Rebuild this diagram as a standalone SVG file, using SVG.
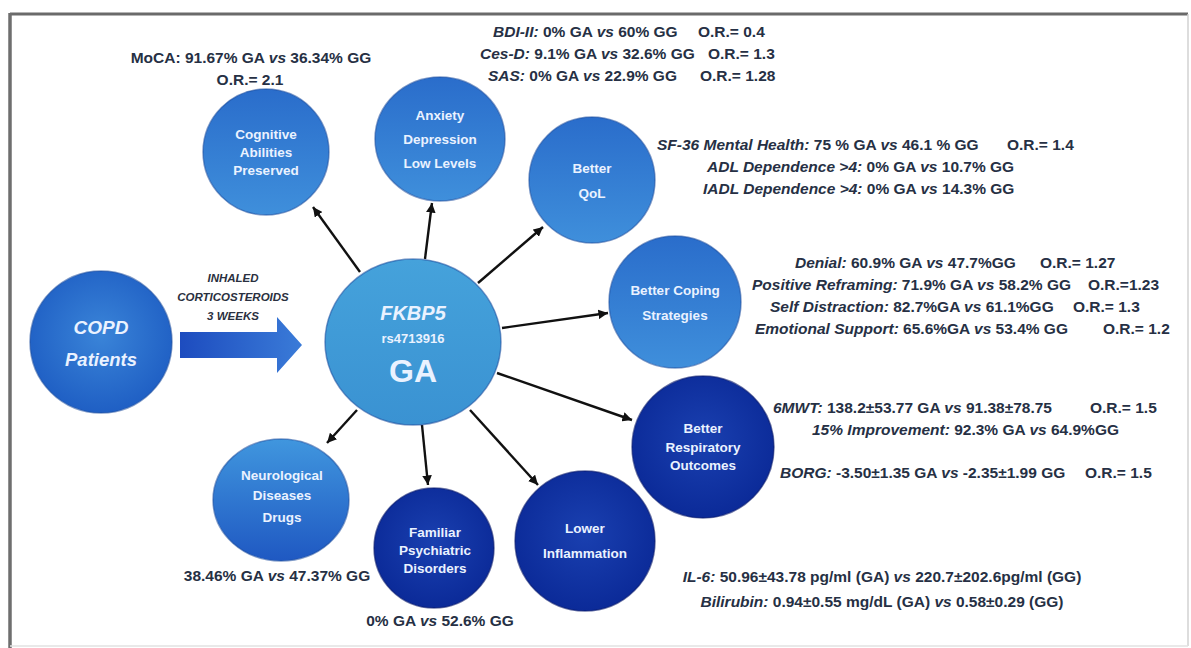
<svg xmlns="http://www.w3.org/2000/svg" width="1191" height="648" viewBox="0 0 1191 648">
<style>
text{font-family:"Liberation Sans",Arial,sans-serif;font-weight:bold}
.ann{font-size:15.5px;fill:#263044}
.i{font-style:italic}
.c{text-anchor:middle}
.in{fill:#eaf2ff;font-size:13.5px;text-anchor:middle}
.big19{font-size:19px}
.big18{font-size:18.5px}
.fk{font-size:20px}
.rs{font-size:13px}
.ga{font-size:32px}
.lbl{font-size:11.5px;fill:#2a3040;font-style:italic;text-anchor:middle}
.edge{stroke:#111;stroke-width:2.4;fill:none;marker-end:url(#ah)}
.rim{stroke:#1a4a9c;stroke-opacity:.55;stroke-width:1.5}
.rimd{stroke:#06186b;stroke-opacity:.6;stroke-width:1.5}
</style>
<defs>
<marker id="ah" viewBox="0 0 10 10" refX="10" refY="5" markerWidth="4" markerHeight="4" orient="auto" markerUnits="strokeWidth"><path d="M0,0 L10,5 L0,10 z" fill="#111"/></marker>
<linearGradient id="gMid" x1="0" y1="0" x2="0" y2="1"><stop offset="0" stop-color="#2a6dcb"/><stop offset="1" stop-color="#3f8fdb"/></linearGradient>
<linearGradient id="gGA" x1="0" y1="0" x2="0" y2="1"><stop offset="0" stop-color="#45a2db"/><stop offset="1" stop-color="#3a92d2"/></linearGradient>
<linearGradient id="gNeuro" x1="0" y1="0" x2="0" y2="1"><stop offset="0" stop-color="#4096de"/><stop offset="1" stop-color="#1f58c2"/></linearGradient>
<radialGradient id="gDark" cx="0.5" cy="0.45" r="0.55"><stop offset="0" stop-color="#1a40b0"/><stop offset="1" stop-color="#0b2a98"/></radialGradient>
<radialGradient id="gCopd" cx="0.5" cy="0.45" r="0.55"><stop offset="0" stop-color="#3a84d8"/><stop offset="1" stop-color="#1f5fc4"/></radialGradient>
<linearGradient id="gArrow" x1="0" y1="0" x2="1" y2="0"><stop offset="0" stop-color="#1d4cbf"/><stop offset="1" stop-color="#3a7bd8"/></linearGradient>
</defs>
<rect width="1191" height="648" fill="#fff"/>
<g id="frame">
<line x1="10" y1="14" x2="1188" y2="14" stroke="#6a6a6a" stroke-width="3"/>
<line x1="10" y1="13" x2="10" y2="648" stroke="#6e6e6e" stroke-width="3.5"/>
<line x1="1188" y1="14" x2="1188" y2="646" stroke="#d2d2d2" stroke-width="1.5"/>
<line x1="10" y1="646" x2="1188" y2="646" stroke="#e2e2e2" stroke-width="1.5"/>
</g>

<g id="connectors">
<line class="edge" x1="360" y1="272" x2="313" y2="207"/>
<line class="edge" x1="425" y1="259" x2="432" y2="203"/>
<line class="edge" x1="478" y1="283" x2="543" y2="227"/>
<line class="edge" x1="502" y1="328" x2="608" y2="313"/>
<line class="edge" x1="497" y1="373" x2="632" y2="420"/>
<line class="edge" x1="470" y1="410" x2="538" y2="485"/>
<line class="edge" x1="422" y1="425" x2="428" y2="485"/>
<line class="edge" x1="357" y1="410" x2="327" y2="443"/>
<g id="treatment-arrow">
<path d="M180,332 L277,332 L277,317 L302,345 L277,373 L277,358 L180,358 Z" fill="url(#gArrow)"/>
<text class="lbl" x="233" y="282">INHALED</text>
<text class="lbl" x="233" y="301">CORTICOSTEROIDS</text>
<text class="lbl" x="233" y="320">3 WEEKS</text>
</g>
</g>

<g id="node-copd">
<circle cx="101" cy="342" r="71" fill="url(#gCopd)" class="rim"/>
<text class="in i big19" x="101" y="334">COPD</text>
<text class="in i big18" x="101" y="366">Patients</text>
</g>

<g id="node-ga">
<ellipse cx="413" cy="342" rx="88" ry="83" fill="url(#gGA)" class="rim"/>
<text class="in i fk" x="413" y="320">FKBP5</text>
<text class="in rs" x="413" y="343">rs4713916</text>
<text class="in ga" x="413" y="382">GA</text>
</g>

<g id="node-cognitive">
<circle cx="266" cy="152" r="63" fill="url(#gMid)" class="rim"/>
<text class="in" x="266" y="139">Cognitive</text>
<text class="in" x="266" y="157">Abilities</text>
<text class="in" x="266" y="175">Preserved</text>
<text class="ann c" x="251" y="63">MoCA: 91.67% GA <tspan class="i">vs</tspan> 36.34% GG</text>
<text class="ann c" x="250" y="85">O.R.= 2.1</text>
</g>

<g id="node-anxiety">
<ellipse cx="440" cy="139" rx="65" ry="62" fill="url(#gMid)" class="rim"/>
<text class="in" x="440" y="120">Anxiety</text>
<text class="in" x="440" y="144">Depression</text>
<text class="in" x="440" y="168">Low Levels</text>
<text class="ann" x="493" y="37"><tspan class="i">BDI-II:</tspan> 0% GA <tspan class="i">vs</tspan> 60% GG<tspan x="698">O.R.= 0.4</tspan></text>
<text class="ann" x="480" y="59"><tspan class="i">Ces-D:</tspan> 9.1% GA <tspan class="i">vs</tspan> 32.6% GG<tspan x="708">O.R.= 1.3</tspan></text>
<text class="ann" x="488" y="81"><tspan class="i">SAS:</tspan> 0% GA <tspan class="i">vs</tspan> 22.9% GG<tspan x="700">O.R.= 1.28</tspan></text>
</g>

<g id="node-qol">
<circle cx="592" cy="180" r="63" fill="url(#gMid)" class="rim"/>
<text class="in" x="592" y="173">Better</text>
<text class="in" x="592" y="198">QoL</text>
<text class="ann" x="657" y="150"><tspan class="i">SF-36 Mental Health:</tspan> 75 % GA <tspan class="i">vs</tspan> 46.1 % GG<tspan x="1007">O.R.= 1.4</tspan></text>
<text class="ann" x="707" y="172"><tspan class="i">ADL Dependence &gt;4:</tspan> 0% GA <tspan class="i">vs</tspan> 10.7% GG</text>
<text class="ann" x="703" y="194"><tspan class="i">IADL Dependence &gt;4:</tspan> 0% GA <tspan class="i">vs</tspan> 14.3% GG</text>
</g>

<g id="node-coping">
<circle cx="675" cy="302" r="66" fill="url(#gMid)" class="rim"/>
<text class="in" x="675" y="295">Better Coping</text>
<text class="in" x="675" y="320">Strategies</text>
<text class="ann" x="795" y="268"><tspan class="i">Denial:</tspan> 60.9% GA <tspan class="i">vs</tspan> 47.7%GG<tspan x="1040">O.R.= 1.27</tspan></text>
<text class="ann" x="752" y="290"><tspan class="i">Positive Reframing:</tspan> 71.9% GA <tspan class="i">vs</tspan> 58.2% GG<tspan x="1088">O.R.=1.23</tspan></text>
<text class="ann" x="770" y="312"><tspan class="i">Self Distraction:</tspan> 82.7%GA <tspan class="i">vs</tspan> 61.1%GG<tspan x="1073">O.R.= 1.3</tspan></text>
<text class="ann" x="755" y="334"><tspan class="i">Emotional Support:</tspan> 65.6%GA <tspan class="i">vs</tspan> 53.4% GG<tspan x="1103">O.R.= 1.2</tspan></text>
</g>

<g id="node-respiratory">
<circle cx="703" cy="447" r="71" fill="url(#gDark)" class="rimd"/>
<text class="in" x="703" y="433">Better</text>
<text class="in" x="703" y="452">Respiratory</text>
<text class="in" x="703" y="470">Outcomes</text>
<text class="ann" x="773" y="413"><tspan class="i">6MWT:</tspan> 138.2±53.77 GA <tspan class="i">vs</tspan> 91.38±78.75<tspan x="1090">O.R.= 1.5</tspan></text>
<text class="ann" x="812" y="435"><tspan class="i">15% Improvement:</tspan> 92.3% GA <tspan class="i">vs</tspan> 64.9%GG</text>
<text class="ann" x="780" y="478"><tspan class="i">BORG:</tspan> -3.50±1.35 GA <tspan class="i">vs</tspan> -2.35±1.99 GG<tspan x="1085">O.R.= 1.5</tspan></text>
</g>

<g id="node-inflammation">
<circle cx="585" cy="541" r="70" fill="url(#gDark)" class="rimd"/>
<text class="in" x="585" y="533">Lower</text>
<text class="in" x="585" y="558">Inflammation</text>
<text class="ann c" x="882" y="582"><tspan class="i">IL-6:</tspan> 50.96±43.78 pg/ml (GA) <tspan class="i">vs</tspan> 220.7±202.6pg/ml (GG)</text>
<text class="ann c" x="882" y="607"><tspan class="i">Bilirubin:</tspan> 0.94±0.55 mg/dL (GA) <tspan class="i">vs</tspan> 0.58±0.29 (GG)</text>
</g>

<g id="node-familiar">
<circle cx="434" cy="548" r="60" fill="url(#gDark)" class="rimd"/>
<text class="in" x="435" y="537">Familiar</text>
<text class="in" x="435" y="555">Psychiatric</text>
<text class="in" x="435" y="573">Disorders</text>
<text class="ann c" x="440" y="626">0% GA <tspan class="i">vs</tspan> 52.6% GG</text>
</g>

<g id="node-neurological">
<ellipse cx="281" cy="500" rx="68" ry="61" fill="url(#gNeuro)" class="rim"/>
<text class="in" x="282" y="480">Neurological</text>
<text class="in" x="282" y="500">Diseases</text>
<text class="in" x="282" y="522">Drugs</text>
<text class="ann c" x="277" y="581">38.46% GA <tspan class="i">vs</tspan> 47.37% GG</text>
</g>
</svg>
